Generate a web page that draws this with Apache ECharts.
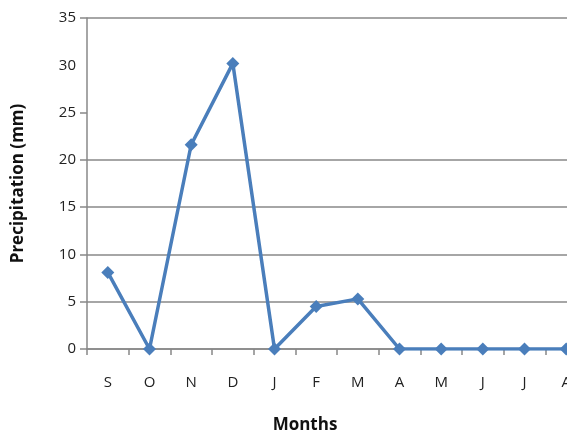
<!DOCTYPE html>
<html><head><meta charset="utf-8">
<script src="https://cdn.jsdelivr.net/npm/echarts@6/dist/echarts.min.js"></script>
<style>html,body{margin:0;padding:0;overflow:hidden;background:#fff}#c{width:600px;height:437px}</style>
</head><body><div id="c"></div>
<script>
var months = ['S','O','N','D','J','F','M','A','M','J','J','A'];
var precipitation = [8.1, 0, 21.6, 30.2, 0, 4.5, 5.3, 0, 0, 0, 0, 0];
var yTicks = [0, 5, 10, 15, 20, 25, 35];
var chart = echarts.init(document.getElementById('c'));
chart.setOption({
  animation: false,
  grid: {left: 87, right: 13, top: 18, bottom: 88, outerBoundsMode: 'none', containLabel: false},
  xAxis: {
    type: 'category', data: months, boundaryGap: true,
    name: 'Months', nameLocation: 'middle', nameGap: 68,
    nameTextStyle: {fontFamily: 'Open Sans', fontWeight: 'bold', fontSize: 17, color: '#111', padding: [0, 64, 0, 0]},
    axisLine: {lineStyle: {color: '#888', width: 1.5}},
    axisTick: {show: true, length: 6, lineStyle: {color: '#888', width: 1.5}},
    axisLabel: {margin: 26, fontFamily: 'Open Sans', fontSize: 15, color: '#222'}
  },
  yAxis: {
    type: 'value', min: 0, max: 35, interval: 5,
    name: 'Precipitation (mm)', nameLocation: 'middle', nameGap: 60,
    nameTextStyle: {fontFamily: 'Open Sans', fontWeight: 'bold', fontSize: 17, color: '#111'},
    axisLine: {show: true, lineStyle: {color: '#888', width: 1.5}},
    axisTick: {show: true, length: 7, customValues: yTicks, lineStyle: {color: '#888', width: 1.5}},
    axisLabel: {margin: 11, fontFamily: 'Open Sans', fontSize: 15, color: '#222'},
    splitLine: {show: true, lineStyle: {color: ['#888','#888','#888','#888','#888','rgba(0,0,0,0)','#888','#888'], width: 1.5}}
  },
  series: [{
    type: 'line', data: precipitation,
    symbol: 'diamond', symbolSize: 13,
    lineStyle: {color: '#4A7EBB', width: 3.5},
    itemStyle: {color: '#4A7EBB'}
  }]
});
</script></body></html>
